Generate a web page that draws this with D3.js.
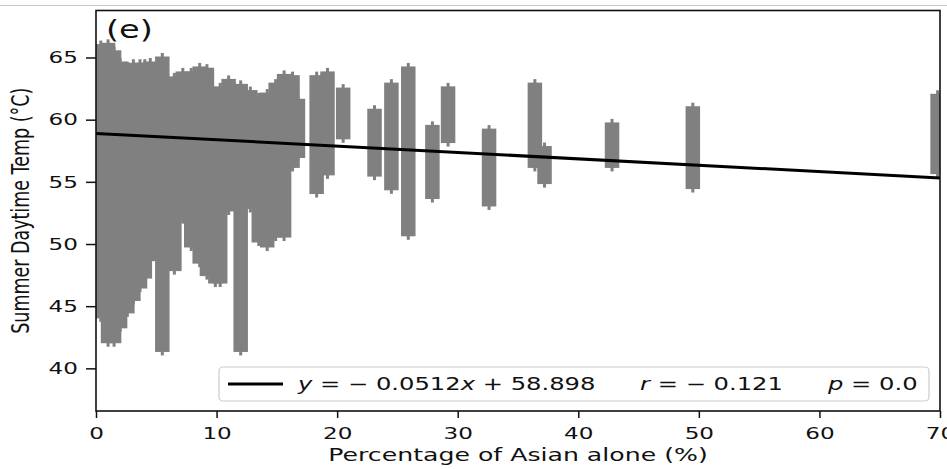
<!DOCTYPE html>
<html>
<head>
<meta charset="utf-8">
<script src="https://cdn.jsdelivr.net/npm/d3@7"></script>
<style>
  body { margin: 0; background: #fff; }
  svg text { font-family: "DejaVu Sans", sans-serif; fill: #111; }
</style>
</head>
<body>
<svg id="chart" width="947" height="469"></svg>
<script>
// each column of "+" markers: share of Asian residents (%), highest and lowest temp seen
var colPct  = [0.4, 1.0, 1.5, 2.0, 2.6, 3.1, 3.65, 4.05, 4.5, 5.5, 6.5, 7.2, 7.9, 8.6, 9.2, 9.9, 10.3, 11.0,
               12.0, 12.8, 13.5, 14.2, 14.9, 15.6, 16.3, 16.75,
               18.3, 19.2, 20.5, 23.1, 24.5, 25.9, 27.9, 29.2, 32.6, 36.4, 37.2, 42.8, 49.5, 69.8];
var colHigh = [66.0, 66.1, 65.5, 64.6, 64.3, 64.5, 64.5, 64.5, 64.6, 65.0, 63.4, 63.8, 63.8, 64.2, 64.1, 62.2, 62.6, 63.2,
               62.8, 62.3, 61.8, 62.1, 62.9, 63.6, 63.5, 61.6,
               63.5, 63.8, 62.5, 60.8, 62.9, 64.2, 59.5, 62.6, 59.2, 62.9, 57.8, 59.7, 61.0, 62.0];
var colLow  = [44.1, 42.1, 42.1, 43.3, 44.5, 45.5, 46.5, 47.3, 48.7, 41.4, 47.9, 52.0, 49.8, 48.5, 47.5, 46.9, 46.9, 52.7,
               41.4, 52.9, 50.2, 49.8, 50.6, 50.6, 56.2, 57.0,
               54.1, 55.6, 58.5, 55.5, 54.4, 50.7, 53.7, 58.2, 53.1, 56.2, 54.9, 56.2, 54.5, 55.7];

var xTicks = [0, 10, 20, 30, 40, 50, 60, 70];
var yTicks = [40, 45, 50, 55, 60, 65];

// linear fit shown in the legend
var slope = -0.0512, intercept = 58.898, rValue = -0.121, pValue = 0.0;
var fitPct = [0, 70];

var SX = 1.4;          // the figure is stretched sideways
var plotL = 96, plotR = 940, plotT = 10.5, plotB = 411;

var svg = d3.select('#chart');

var x = d3.scaleLinear().domain([0, 70]).range([plotL, plotR]);
var y = d3.scaleLinear().domain([36.57, 68.78]).range([plotB, plotT]);

// thin rule along the top of the picture
svg.append('line').attr('x1', 0).attr('x2', 947).attr('y1', 5.5).attr('y2', 5.5)
   .attr('stroke', '#c8c8c8').attr('stroke-width', 1);

svg.append('clipPath').attr('id', 'plot-clip')
   .append('rect').attr('x', plotL).attr('y', plotT).attr('width', plotR - plotL).attr('height', plotB - plotT);

var cols = colPct.map(function (d, i) { return { pct: d, hi: colHigh[i], lo: colLow[i] }; });
var markW = 14.5, stick = 4.5;

var pts = svg.append('g').attr('clip-path', 'url(#plot-clip)').attr('fill', '#808080');

// body of each column (the stacked markers)
pts.selectAll('rect.body')
   .data(cols)
   .enter()
   .append('rect')
   .attr('class', 'body')
   .attr('x', function (d) { return x(d.pct) - markW / 2; })
   .attr('y', function (d) { return y(d.hi) - 1; })
   .attr('width', markW)
   .attr('height', function (d) { return y(d.lo) - y(d.hi) + 2; });

// vertical arms of the end markers
pts.selectAll('rect.capTop')
   .data(cols)
   .enter()
   .append('rect')
   .attr('class', 'capTop')
   .attr('x', function (d) { return x(d.pct) - 1.5; })
   .attr('y', function (d) { return y(d.hi) - stick; })
   .attr('width', 3)
   .attr('height', stick);
pts.selectAll('rect.capBot')
   .data(cols)
   .enter()
   .append('rect')
   .attr('class', 'capBot')
   .attr('x', function (d) { return x(d.pct) - 1.5; })
   .attr('y', function (d) { return y(d.lo); })
   .attr('width', 3)
   .attr('height', stick);

// fit line
svg.append('path')
   .datum(fitPct)
   .attr('clip-path', 'url(#plot-clip)')
   .attr('fill', 'none')
   .attr('stroke', '#000')
   .attr('stroke-width', 3)
   .attr('d', d3.line()
      .x(function (d) { return x(d); })
      .y(function (d) { return y(slope * d + intercept); }));

// spines
svg.append('rect').attr('x', plotL).attr('y', plotT).attr('width', plotR - plotL).attr('height', plotB - plotT)
   .attr('fill', 'none').attr('stroke', '#111').attr('stroke-width', 1.6);

// axes
var xAxis = svg.append('g').attr('transform', 'translate(0,' + plotB + ')')
   .call(d3.axisBottom(x).tickValues(xTicks).tickSize(7).tickPadding(9).tickFormat(d3.format('d')));
var yAxis = svg.append('g').attr('transform', 'translate(' + plotL + ',0)')
   .call(d3.axisLeft(y).tickValues(yTicks).tickSize(10).tickPadding(8).tickFormat(d3.format('d')));

[xAxis, yAxis].forEach(function (g) {
  g.select('.domain').remove();
  g.selectAll('.tick line').attr('stroke', '#111').attr('stroke-width', 1.5);
  g.selectAll('.tick text').attr('font-size', 16.5).attr('fill', '#111')
   .attr('font-family', '"DejaVu Sans", sans-serif');
});
xAxis.selectAll('.tick text').attr('transform', 'scale(' + SX + ',1)');
yAxis.selectAll('.tick text').attr('x', -18 / SX).attr('transform', 'scale(' + SX + ',1)');

// axis titles
svg.append('text')
   .attr('transform', 'translate(' + (plotL + plotR) / 2 + ',461) scale(' + SX + ',1)')
   .attr('text-anchor', 'middle')
   .attr('font-size', 18)
   .text('Percentage of Asian alone (%)');

svg.append('text')
   .attr('transform', 'translate(29,' + (plotT + plotB) / 2 + ') rotate(-90) scale(1,' + SX + ')')
   .attr('text-anchor', 'middle')
   .attr('font-size', 17.5)
   .text('Summer Daytime Temp (°C)');

// panel letter
svg.append('text')
   .attr('transform', 'translate(106,38) scale(' + SX + ',1)')
   .attr('font-size', 24)
   .text('(e)');

// legend
var lg = svg.append('g');
lg.append('rect').attr('x', 219).attr('y', 367).attr('width', 710).attr('height', 34).attr('rx', 4)
  .attr('fill', '#fff').attr('fill-opacity', 0.8).attr('stroke', '#cccccc').attr('stroke-width', 1.2);
lg.append('line').attr('x1', 228).attr('x2', 283).attr('y1', 384).attr('y2', 384)
  .attr('stroke', '#000').attr('stroke-width', 3);

function mathText(xPos, parts) {
  var t = lg.append('text')
    .attr('transform', 'translate(' + xPos + ',390) scale(' + SX + ',1)')
    .attr('font-size', 17.3)
    .attr('xml:space', 'preserve')
    .style('white-space', 'pre');
  parts.forEach(function (p) {
    t.append('tspan').attr('font-style', p[1] ? 'italic' : 'normal').text(p[0]);
  });
}
var fmtSlope = Math.abs(slope).toFixed(4), fmtInt = intercept.toFixed(3);
mathText(298, [['y', 1], [' = \u2212 ' + fmtSlope, 0], ['x', 1], [' + ' + fmtInt, 0]]);
mathText(640, [['r', 1], [' = \u2212 ' + Math.abs(rValue).toFixed(3), 0]]);
mathText(828, [['p', 1], [' = ' + pValue.toFixed(1), 0]]);
</script>
</body>
</html>
